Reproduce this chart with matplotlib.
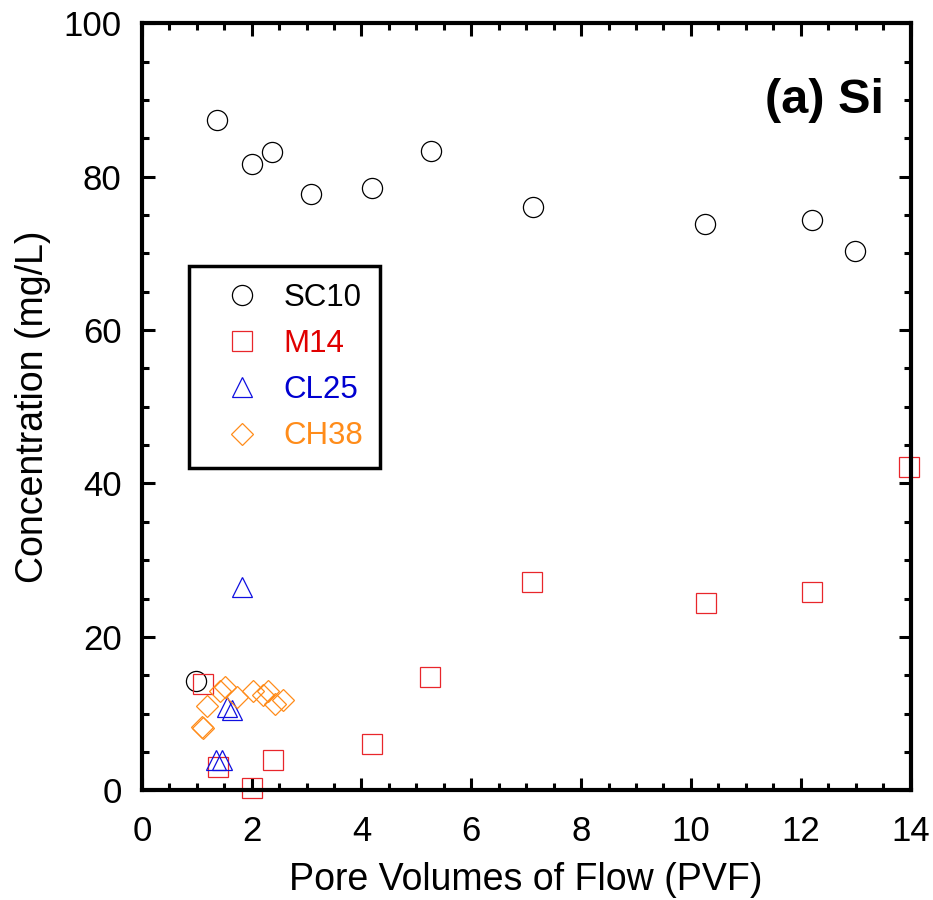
import matplotlib
matplotlib.use("Agg")
import matplotlib.pyplot as plt
from matplotlib.ticker import MultipleLocator

plt.rcParams['font.family'] = ['Liberation Sans', 'DejaVu Sans']

# SC10
sc10_x = [0.98, 1.37, 2.0, 2.37, 3.08, 4.19, 5.26, 7.12, 10.26, 12.2, 12.99]
sc10_y = [14.2, 87.4, 81.7, 83.2, 77.7, 78.5, 83.4, 76.0, 73.8, 74.4, 70.3]

# M14
m14_x = [1.11, 1.38, 2.0, 2.39, 4.19, 5.25, 7.1, 10.27, 12.2, 13.97]
m14_y = [13.8, 3.0, 0.3, 3.9, 6.0, 14.7, 27.1, 24.4, 25.8, 42.2]

# CL25
cl25_x = [1.82, 1.55, 1.64, 1.35, 1.46]
cl25_y = [26.5, 10.8, 10.4, 4.0, 4.0]

# CH38
ch38_x = [1.51, 1.42, 1.73, 1.18, 2.02, 2.29, 2.2, 2.42, 2.57, 1.09, 1.11]
ch38_y = [13.4, 13.0, 12.1, 11.0, 12.9, 13.0, 12.4, 11.3, 11.7, 8.2, 8.1]

fig = plt.figure(figsize=(9.33, 9), dpi=100)
ax = fig.add_axes([0.152, 0.122, 0.824, 0.852])

ax.plot(sc10_x, sc10_y, 'o', ms=14.5, mfc='none', mec='black', mew=0.9, label='SC10', clip_on=False)
ax.plot(m14_x, m14_y, 's', ms=15, mfc='none', mec='#e8262b', mew=0.9, label='M14', clip_on=False)
ax.plot(cl25_x, cl25_y, '^', ms=15, mfc='none', mec='#1010e0', mew=0.9, label='CL25', clip_on=False)
ax.plot(ch38_x, ch38_y, 'D', ms=11.5, mfc='none', mec='#ff8c1a', mew=0.9, label='CH38', clip_on=False)

ax.set_xlim(0, 14)
ax.set_ylim(0, 100)
ax.xaxis.set_major_locator(MultipleLocator(2))
ax.xaxis.set_minor_locator(MultipleLocator(0.5))
ax.yaxis.set_major_locator(MultipleLocator(20))
ax.yaxis.set_minor_locator(MultipleLocator(5))
ax.tick_params(which='both', direction='in', top=True, right=True, width=2.2, labelsize=25)
ax.tick_params(which='major', length=9)
ax.tick_params(which='minor', length=5)
ax.tick_params(axis='x', which='major', pad=18)
ax.tick_params(axis='y', which='major', pad=14.5)
for s in ax.spines.values():
    s.set_linewidth(3)

ax.set_xlabel('Pore Volumes of Flow (PVF)', fontsize=27, labelpad=10)
ax.set_ylabel('Concentration (mg/L)', fontsize=27, labelpad=9)

ax.text(0.966, 0.9, '(a) Si', transform=ax.transAxes, ha='right', va='center',
        fontsize=35, fontweight='bold')

leg = ax.legend(loc='upper left', bbox_to_anchor=(0.062, 0.683), borderaxespad=0,
                fancybox=False, edgecolor='black', framealpha=1, fontsize=22.5,
                handletextpad=0.2, labelspacing=0.52, borderpad=0.52, handlelength=2.3)
leg.get_frame().set_linewidth(2.5)
for t, c in zip(leg.get_texts(), ['black', '#e00000', '#0000d0', '#ff8c1a']):
    t.set_color(c)

fig.savefig('out.png', dpi=100)
